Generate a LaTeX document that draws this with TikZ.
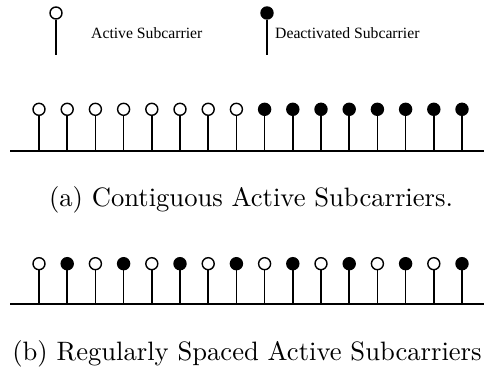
\documentclass[tikz,border=0pt]{standalone}
\usepackage{fontspec}
\newfontfamily\legendfont{Liberation Serif}
\newfontfamily\capfont{lmroman10-regular}[Extension=.otf]
\begin{document}
\begin{tikzpicture}[x=1pt,y=1pt,
  sc/.style={circle,draw=black,line width=1.4pt,inner sep=0pt,minimum size=12pt},
  act/.style={sc,fill=white},
  deact/.style={sc,fill=black},
  stem/.style={line width=1.7pt},
  base/.style={line width=1.7pt},
  legtext/.style={anchor=west,inner sep=0pt,font=\legendfont\fontsize{15.7}{18}\selectfont},
  captext/.style={inner sep=0pt,font=\capfont\fontsize{26.6}{30}\selectfont}]
\useasboundingbox (0,0) rectangle (484,370);
% legend
\node[act] (la) at (56,357) {};
\coordinate (lae) at (56,315);
\draw[stem] (la.south) -- (lae);
\node[legtext] (lat) at (91,337) {Active Subcarrier};
\node[deact] (ld) at (267,357) {};
\coordinate (lde) at (267,315);
\draw[stem] (ld.south) -- (lde);
\node[legtext] (ldt) at (275,337) {Deactivated Subcarrier};
% row a
\coordinate (bal) at (10,219.3);
\coordinate (bar) at (484,219.3);
\draw[base] (bal) -- (bar);
\foreach \i in {0,...,15} {
  \pgfmathsetmacro{\xx}{39+28.2*\i}
  \ifnum\i<8
    \node[act] (a\i) at (\xx,260.7) {};
  \else
    \node[deact] (a\i) at (\xx,260.7) {};
  \fi
  \coordinate (ab\i) at (\xx,219.3);
  \draw[stem] (a\i.south) -- (ab\i);
}
\node[captext] (capa) at (251,170) {(a) Contiguous Active Subcarriers.};
% row b
\coordinate (bbl) at (10,65.7);
\coordinate (bbr) at (484,65.7);
\draw[base] (bbl) -- (bbr);
\foreach \i in {0,...,15} {
  \pgfmathsetmacro{\xx}{39+28.2*\i}
  \ifodd\i
    \node[deact] (b\i) at (\xx,106.3) {};
  \else
    \node[act] (b\i) at (\xx,106.3) {};
  \fi
  \coordinate (bb\i) at (\xx,65.7);
  \draw[stem] (b\i.south) -- (bb\i);
}
\node[captext] (capb) at (247,16) {(b) Regularly Spaced Active Subcarriers};
\end{tikzpicture}
\end{document}
